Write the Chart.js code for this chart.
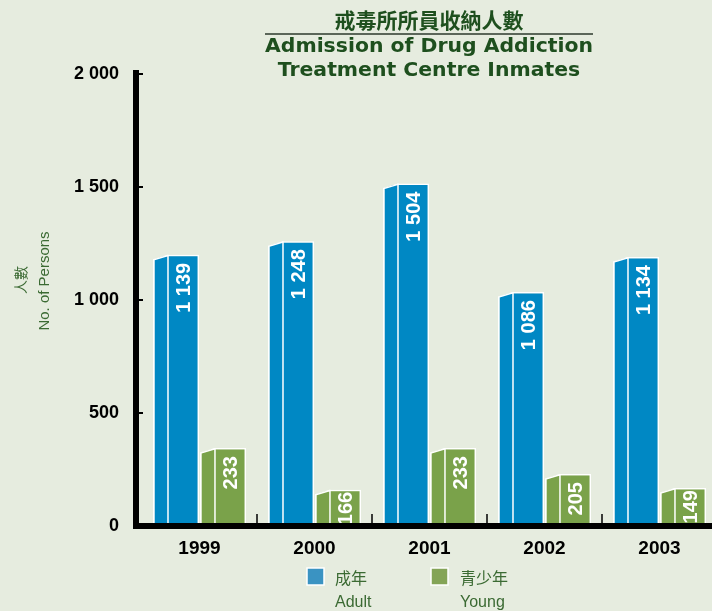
<!DOCTYPE html>
<html>
<head>
<meta charset="utf-8">
<script src="https://cdn.jsdelivr.net/npm/chart.js@4.4.1/dist/chart.umd.min.js"></script>
<style>
  html, body { margin: 0; padding: 0; background: #e6ecdf; overflow: hidden; }
  #wrap { position: relative; width: 717px; height: 611px; }
</style>
</head>
<body>
<div id="wrap"><canvas id="chart"></canvas></div>
<script>
// ── Data ─────────────────────────────────────────────────────────
const YEARS = ['1999', '2000', '2001', '2002', '2003'];
// bar heights as drawn in the picture
const ADULT = [1200, 1260, 1515, 1035, 1190];
const YOUNG = [345, 160, 345, 230, 168];
// values printed on the bars
const ADULT_TEXT = ['1 139', '1 248', '1 504', '1 086', '1 134'];
const YOUNG_TEXT = ['233', '166', '233', '205', '149'];
const Y_TICK_LABELS = ['0', '500', '1 000', '1 500', '2 000'];

// ── Design tokens ────────────────────────────────────────────────
const BG = '#e6ecdf';
const BLUE = '#0088c4';
const GREEN = '#7aa24a';
const TITLE_GREEN = '#1e4f1e';
const TEXT_GREEN = '#3b6a33';
const SANS = "'Liberation Sans', Arial, sans-serif";
const CJK = "'Noto Sans CJK TC', 'Noto Sans CJK SC', sans-serif";
const SIDE_W = 15;   // width of the left "3D" face
const SLANT = 5;     // drop of the side face top

// ── Plugin: side faces, value labels, axes ───────────────────────
const decoPlugin = {
    id: 'deco',
    afterDatasetsDraw(chart) {
        const ctx = chart.ctx;
        const area = chart.chartArea;
        const texts = [ADULT_TEXT, YOUNG_TEXT];

        chart.data.datasets.forEach((ds, di) => {
            const meta = chart.getDatasetMeta(di);
            meta.data.forEach((bar, i) => {
                const { x, y, base, width } = bar.getProps(['x', 'y', 'base', 'width'], true);
                const left = x - width / 2;
                const right = x + width / 2;

                ctx.save();
                // cut the slanted top of the side face
                ctx.fillStyle = BG;
                ctx.beginPath();
                ctx.moveTo(left - 1, y - 1);
                ctx.lineTo(left + SIDE_W, y - 1);
                ctx.lineTo(left + SIDE_W, y);
                ctx.lineTo(left - 1, y + SLANT + 0.5);
                ctx.closePath();
                ctx.fill();

                ctx.strokeStyle = '#ffffff';
                ctx.lineWidth = 1.5;
                ctx.beginPath();
                ctx.moveTo(left + 0.75, base);
                ctx.lineTo(left + 0.75, y + SLANT);
                ctx.lineTo(left + SIDE_W, y + 0.75);
                ctx.stroke();
                ctx.beginPath();
                ctx.moveTo(left + SIDE_W, y);
                ctx.lineTo(left + SIDE_W, base);
                ctx.stroke();

                // value label, rotated
                const cx = left + SIDE_W + (right - left - SIDE_W) / 2;
                ctx.font = 'bold 20px ' + SANS;
                const txt = texts[di][i];
                const len = ctx.measureText(txt).width;
                let end = Math.min(y + 8, base - 6 - len);
                end = Math.max(end, y + 2);
                ctx.translate(cx, end);
                ctx.rotate(-Math.PI / 2);
                ctx.fillStyle = '#ffffff';
                ctx.textAlign = 'right';
                ctx.textBaseline = 'middle';
                ctx.fillText(txt, 0, 1);
                ctx.restore();
            });
        });

        // axes
        const yScale = chart.scales.y;
        const xScale = chart.scales.x;
        const zeroY = yScale.getPixelForValue(0);
        const topY = yScale.getPixelForValue(2000);
        ctx.save();
        ctx.fillStyle = '#000000';
        ctx.fillRect(area.left - 9, topY - 4, 6, zeroY - topY + 7);
        ctx.fillRect(area.left - 9, zeroY - 3, chart.width, 6);
        ctx.strokeStyle = '#000000';
        ctx.lineWidth = 2;
        yScale.ticks.forEach(t => {
            if (t.value === 0) return;
            const py = yScale.getPixelForValue(t.value);
            ctx.beginPath();
            ctx.moveTo(area.left - 4, py);
            ctx.lineTo(area.left + 1, py);
            ctx.stroke();
        });
        ctx.lineWidth = 1.5;
        for (let i = 1; i < YEARS.length; i++) {
            const px = (xScale.getPixelForValue(i - 1) + xScale.getPixelForValue(i)) / 2;
            ctx.beginPath();
            ctx.moveTo(px, zeroY - 3);
            ctx.lineTo(px, zeroY - 12);
            ctx.stroke();
        }
        ctx.restore();
    },
    afterDraw(chart) {
        const ctx = chart.ctx;
        ctx.save();

        // title
        ctx.fillStyle = TITLE_GREEN;
        ctx.textAlign = 'center';
        ctx.textBaseline = 'middle';
        ctx.font = 'bold 21px ' + CJK;
        ctx.fillText('戒毒所所員收納人數', 429, 20);
        ctx.strokeStyle = '#2c3a2c';
        ctx.lineWidth = 1.5;
        ctx.beginPath();
        ctx.moveTo(265, 34);
        ctx.lineTo(593, 34);
        ctx.stroke();

        ctx.font = "bold 19px 'DejaVu Sans', sans-serif";
        const l1 = 'Admission of Drug Addiction';
        const l2 = 'Treatment Centre Inmates';
        const sx = 328 / ctx.measureText(l1).width;
        [[l1, 47], [l2, 71]].forEach(([t, ty]) => {
            ctx.save();
            ctx.translate(429, ty);
            ctx.scale(sx, 1);
            ctx.fillText(t, 0, 0);
            ctx.restore();
        });

        // y axis title
        ctx.fillStyle = TEXT_GREEN;
        ctx.save();
        ctx.translate(21, 280);
        ctx.rotate(-Math.PI / 2);
        ctx.font = '14px ' + CJK;
        ctx.fillText('人數', 0, 0);
        ctx.restore();
        ctx.save();
        ctx.translate(45, 281);
        ctx.rotate(-Math.PI / 2);
        ctx.font = '15px ' + SANS;
        ctx.fillText('No. of Persons', 0, 0);
        ctx.restore();

        // legend
        const items = [
            { color: '#3a93c2', zh: '成年', en: 'Adult', x: 307, tx: 335 },
            { color: '#84a457', zh: '青少年', en: 'Young', x: 431, tx: 460 },
        ];
        ctx.textAlign = 'left';
        items.forEach(it => {
            ctx.fillStyle = it.color;
            ctx.fillRect(it.x, 568, 17, 17);
            ctx.strokeStyle = '#ffffff';
            ctx.lineWidth = 1.5;
            ctx.strokeRect(it.x, 568, 17, 17);
            ctx.fillStyle = TEXT_GREEN;
            ctx.font = '16px ' + CJK;
            ctx.fillText(it.zh, it.tx, 578);
            ctx.font = '16px ' + SANS;
            ctx.fillText(it.en, it.tx, 603);
        });
        ctx.restore();
    },
};

// ── Chart ────────────────────────────────────────────────────────
new Chart(document.getElementById('chart').getContext('2d'), {
    type: 'bar',
    data: {
        labels: YEARS,
        datasets: [
            { label: 'Adult', data: ADULT, backgroundColor: BLUE },
            { label: 'Young', data: YOUNG, backgroundColor: GREEN },
        ],
    },
    options: {
        responsive: true,
        maintainAspectRatio: false,
        animation: false,
        events: [],
        layout: { padding: { top: 74, left: 0, right: 0, bottom: 0 } },
        datasets: {
            bar: {
                categoryPercentage: 0.817,
                barPercentage: 0.98,
                borderColor: '#ffffff',
                borderWidth: 1.5,
                borderSkipped: 'bottom',
            },
        },
        plugins: {
            legend: { display: false },
            tooltip: { enabled: false },
        },
        scales: {
            x: {
                grid: { display: false },
                border: { display: false },
                ticks: {
                    color: '#000000',
                    padding: 3,
                    font: { family: SANS, size: 19, weight: 'bold' },
                },
                afterFit: s => { s.height = 85; },
            },
            y: {
                min: 0,
                max: 2000,
                grid: { display: false },
                border: { display: false },
                ticks: {
                    stepSize: 500,
                    color: '#000000',
                    padding: 15,
                    font: { family: SANS, size: 18, weight: 'bold' },
                    callback: (v, i) => Y_TICK_LABELS[i],
                },
                afterFit: s => { s.width = 142; },
            },
        },
    },
    plugins: [decoPlugin],
});
</script>
</body>
</html>
